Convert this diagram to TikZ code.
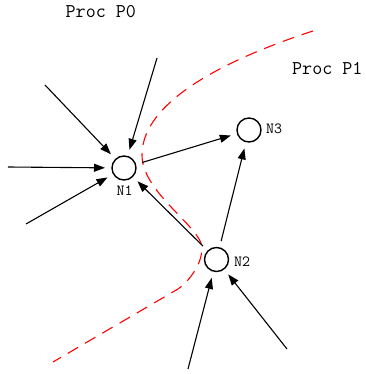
\documentclass[tikz,border=0pt]{standalone}
\usepackage{fontspec}
\usetikzlibrary{arrows.meta}
\tikzset{
  vertex/.style={circle, draw, line width=1.4pt, minimum size=24pt, inner sep=0pt, outer sep=7pt},
  vlabel/.style={font=\ttfamily\fontsize{15.5}{18}\selectfont, inner sep=0pt},
  proclabel/.style={font=\ttfamily\fontsize{19.5}{22}\selectfont, inner sep=0pt, anchor=base west},
  edge/.style={line width=1.1pt, -{Triangle[length=11pt,width=8pt]}},
  cut/.style={red, line width=1.1pt, dash pattern=on 12pt off 8pt}
}
\begin{document}
\begin{tikzpicture}[x=1pt,y=-1pt]
\useasboundingbox (0,0) rectangle (365,374);
% nodes
\node[vertex] (N1) at (124,168) {};
\node[vertex] (N3) at (249,130) {};
\node[vertex] (N2) at (216.5,259.5) {};
\node[vlabel] (L1) at (124.5,191) {N1};
\node[vlabel] (L3) at (274,129) {N3};
\node[vlabel] (L2) at (242,262) {N2};
\node[proclabel] (P0) at (65.5,17.3) {Proc P0};
\node[proclabel] (P1) at (292,74.3) {Proc P1};
% free ends
\coordinate (a1) at (45,85);
\coordinate (a2) at (157,58);
\coordinate (a3) at (8,167);
\coordinate (a4) at (26,224);
\coordinate (b1) at (188,369);
\coordinate (b2) at (287,349);
% cut line
\draw[cut] (313,31) .. controls (230,58) and (142,100) .. (142,155)
  .. controls (142,190) and (193,222) .. (201,243)
  .. controls (205,258) and (193,278) .. (178,289) -- (53,362);
% edges
\draw[edge] (a1) -- (N1);
\draw[edge] (a2) -- (N1);
\draw[edge] (a3) -- (N1);
\draw[edge] (a4) -- (N1);
\draw[edge] (N1) -- (N3);
\draw[edge] (N2) -- (N1);
\draw[edge] (N2) -- (N3);
\draw[edge] (b1) -- (N2);
\draw[edge] (b2) -- (N2);
\end{tikzpicture}
\end{document}
